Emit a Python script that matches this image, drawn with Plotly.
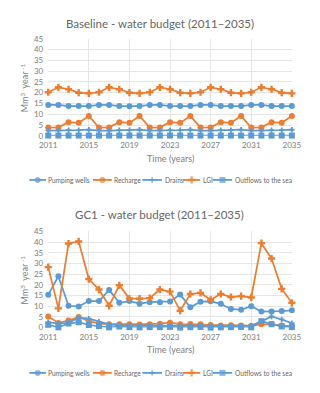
"""
Water budget charts (Baseline and GC1), 2011-2035.
"""

import plotly.graph_objects as go

W, H = 320, 393
BLUE = '#5B9BD5'
ORANGE = '#ED7D31'
GRID = '#E6E6E6'
TITLE_C = '#666666'
TICK_C = '#808080'
FONT = 'Lato'

# ---- data ----
years = list(range(2011, 2036))
year_ticks = [2011, 2015, 2019, 2023, 2027, 2031, 2035]
y_ticks = [0, 5, 10, 15, 20, 25, 30, 35, 40, 45]

series_names = ['Pumping wells', 'Recharge', 'Drains', 'LGI', 'Outflows to the sea']

base_pumping = [14.3, 14.3, 13.8, 13.8, 13.8, 14.3, 14.3, 13.8, 13.7, 13.8,
                14.3, 14.3, 13.8, 13.8, 13.8, 14.3, 14.3, 13.8, 13.8, 13.8,
                14.3, 14.3, 13.8, 13.8, 13.8]
base_recharge = [3.8, 3.9, 6.3, 6.0, 9.2, 3.8, 3.9, 6.3, 6.0, 9.2,
                 3.8, 3.9, 6.3, 6.0, 9.2, 3.8, 3.9, 6.3, 6.0, 9.2,
                 3.8, 3.9, 6.3, 6.0, 9.2]
base_drains = [2.4, 2.4, 2.6, 2.6, 2.8, 2.4, 2.4, 2.6, 2.6, 2.8,
               2.4, 2.4, 2.6, 2.6, 2.8, 2.4, 2.4, 2.6, 2.6, 2.8,
               2.4, 2.4, 2.6, 2.6, 2.8]
base_lgi = [20.2, 22.5, 21.6, 20.0, 19.7, 20.2, 22.5, 21.6, 20.0, 19.7,
            20.2, 22.5, 21.6, 20.0, 19.7, 20.2, 22.5, 21.6, 20.0, 19.7,
            20.2, 22.5, 21.6, 20.0, 19.7]
base_outflows = [0.1, 0.1, 0.1, 0.1, 0.1, 0.1, 0.1, 0.1, 0.1, 0.1,
                 0.1, 0.1, 0.1, 0.1, 0.1, 0.1, 0.1, 0.1, 0.1, 0.1,
                 0.1, 0.1, 0.1, 0.1, 0.1]

gc1_pumping = [15.3, 24.0, 10.2, 9.9, 12.4, 12.4, 17.6, 11.6, 12.4, 11.2,
               11.9, 11.9, 12.2, 15.5, 9.5, 12.1, 12.3, 11.1, 8.7, 8.3,
               10.0, 7.5, 7.5, 7.7, 8.1]
gc1_recharge = [5.2, 2.2, 3.3, 5.0, 3.0, 1.9, 1.6, 1.6, 1.5, 1.4,
                1.6, 1.8, 2.3, 1.6, 1.7, 1.5, 1.2, 1.0, 1.1, 1.0,
                0.9, 1.5, 1.5, 1.0, 0.6]
gc1_drains = [2.5, 1.9, 2.2, 4.6, 4.2, 2.7, 1.5, 1.0, 0.9, 0.8,
              0.8, 0.8, 0.9, 0.8, 0.8, 0.8, 0.7, 0.7, 0.7, 0.7,
              0.9, 2.9, 5.2, 3.8, 2.1]
gc1_lgi = [28.3, 9.0, 39.3, 40.3, 22.7, 17.8, 10.2, 19.8, 13.6, 13.5,
           13.8, 17.8, 16.8, 7.9, 15.7, 16.2, 13.0, 15.7, 14.3, 14.7,
           14.1, 39.5, 32.3, 18.1, 11.6]
gc1_outflows = [1.3, 0.1, 1.9, 2.5, 1.2, 0.7, 0.1, 0.5, 0.2, 0.1,
                0.2, 0.2, 0.3, 0.0, 0.2, 0.3, 0.0, 0.1, 0.2, 0.3,
                0.1, 3.0, 1.6, 0.5, 0.2]

panels = [
    ('Baseline - water budget (2011–2035)',
     [base_pumping, base_recharge, base_drains, base_lgi, base_outflows]),
    ('GC1 - water budget (2011–2035)',
     [gc1_pumping, gc1_recharge, gc1_drains, gc1_lgi, gc1_outflows]),
]

# ---- styles ----
styles = {
    'Pumping wells': dict(color=BLUE, symbol='circle', size=6),
    'Recharge': dict(color=ORANGE, symbol='circle', size=6),
    'Drains': dict(color=BLUE, symbol='cross', size=4.5),
    'LGI': dict(color=ORANGE, symbol='cross', size=6),
    'Outflows to the sea': dict(color=BLUE, symbol='square', size=6),
}

# layout in pixels: plot top/bottom, title, x-title and legend row
panel_px = [
    dict(top=34.7, bottom=134.2, title=18.5, xtitle=157, legend=179.5),
    dict(top=232.3, bottom=331.0, title=215, xtitle=354, legend=377.5),
]
x_left, x_right = 41.7, 300.7
legend_key_px = [(21.7, 39.3), (89.3, 109.3), (141.7, 162.7), (185.0, 203.3), (216.7, 237.3)]


def px(x):
    return x / W


def py(y):
    return 1 - y / H


fig = go.Figure()
annotations = []

for i, (title, values) in enumerate(panels):
    n = '' if i == 0 else str(i + 1)
    p = panel_px[i]
    for name, vals in zip(series_names, values):
        st = styles[name]
        fig.add_trace(go.Scatter(
            x=years, y=vals, name=name,
            mode='lines+markers',
            line=dict(color=st['color'], width=1.75),
            marker=dict(color=st['color'], symbol=st['symbol'], size=st['size'],
                        line=dict(width=0)),
            cliponaxis=False, showlegend=False,
            xaxis='x' + n, yaxis='y' + n,
        ))

    fig.update_layout({
        'xaxis' + n: dict(
            domain=[px(x_left), px(x_right)], range=[2011, 2035],
            anchor='y' + n, tickvals=year_ticks, showgrid=True, gridcolor=GRID,
            gridwidth=1, zeroline=False, showline=False, ticks='',
            ticklabelstandoff=3,
            tickfont=dict(family=FONT, size=8, color=TICK_C),
        ),
        'yaxis' + n: dict(
            domain=[py(p['bottom']), py(p['top'])], range=[0, 45],
            anchor='x' + n, tickvals=y_ticks, showgrid=True, gridcolor=GRID,
            gridwidth=1, zeroline=False, showline=False, ticks='',
            ticklabelstandoff=4,
            tickfont=dict(family=FONT, size=8, color=TICK_C),
        ),
    })

    annotations.append(dict(
        text=title, x=0.5, y=py(p['title']), xref='paper', yref='paper',
        showarrow=False, xanchor='center', yanchor='middle',
        font=dict(family=FONT, size=11.5, color=TITLE_C),
    ))
    annotations.append(dict(
        text='Time (years)', x=px((x_left + x_right) / 2), y=py(p['xtitle']),
        xref='paper', yref='paper', showarrow=False,
        xanchor='center', yanchor='middle',
        font=dict(family=FONT, size=9, color=TICK_C),
    ))
    annotations.append(dict(
        text='Mm<sup>3</sup>  year<sup> -1</sup>', x=px(17),
        y=py((p['top'] + p['bottom']) / 2), xref='paper', yref='paper',
        showarrow=False, textangle=-90, xanchor='center', yanchor='middle',
        font=dict(family=FONT, size=9, color=TICK_C),
    ))

    # legend keys (drawn on a pixel-scaled helper axis)
    for name, (x0, x1) in zip(series_names, legend_key_px):
        st = styles[name]
        fig.add_trace(go.Scatter(
            x=[x0, (x0 + x1) / 2, x1], y=[p['legend']] * 3,
            mode='lines+markers',
            line=dict(color=st['color'], width=1.75),
            marker=dict(color=st['color'], symbol=st['symbol'],
                        size=[0, st['size'], 0], line=dict(width=0)),
            showlegend=False, hoverinfo='skip', cliponaxis=False,
            xaxis='x3', yaxis='y3',
        ))
        annotations.append(dict(
            text=name, x=px(x1 + 0.5), y=py(p['legend']), xref='paper', yref='paper',
            showarrow=False, xanchor='left', yanchor='middle',
            font=dict(family=FONT, size=6.6, color=TITLE_C),
        ))

fig.update_layout(
    xaxis3=dict(domain=[0, 1], range=[0, W], visible=False, anchor='y3'),
    yaxis3=dict(domain=[0, 1], range=[H, 0], visible=False, anchor='x3'),
    width=W, height=H,
    margin=dict(l=0, r=0, t=0, b=0),
    paper_bgcolor='white', plot_bgcolor='rgba(0,0,0,0)',
    showlegend=False,
    annotations=annotations,
    font=dict(family=FONT),
)

fig.write_html("out.html", config={'displayModeBar': False},
               post_script="document.body.style.margin='0';")
